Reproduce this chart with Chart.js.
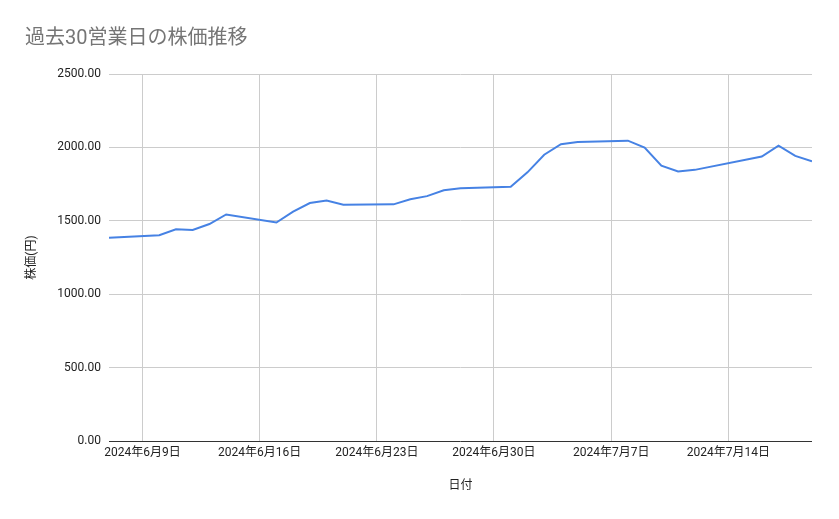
<!DOCTYPE html>
<html>
<head>
<meta charset="utf-8">
<script src="https://cdn.jsdelivr.net/npm/chart.js@4.4.1/dist/chart.umd.min.js"></script>
<style>
html,body{margin:0;padding:0;background:#fff;}
#wrap{width:839px;height:519px;position:relative;}
</style>
</head>
<body>
<div id="wrap"><canvas id="c"></canvas></div>
<script>
const chartTitle = '過去30営業日の株価推移';
const xTitle = '日付';
const yTitle = '株価(円)';

const dates = [
  '2024-06-07','2024-06-10','2024-06-11','2024-06-12','2024-06-13','2024-06-14',
  '2024-06-17','2024-06-18','2024-06-19','2024-06-20','2024-06-21',
  '2024-06-24','2024-06-25','2024-06-26','2024-06-27','2024-06-28',
  '2024-07-01','2024-07-02','2024-07-03','2024-07-04','2024-07-05',
  '2024-07-08','2024-07-09','2024-07-10','2024-07-11','2024-07-12',
  '2024-07-16','2024-07-17','2024-07-18','2024-07-19'
];
const prices = [
  1385, 1402, 1442, 1437, 1478, 1543,
  1488, 1562, 1621, 1638, 1610,
  1612, 1647, 1668, 1708, 1722,
  1732, 1830, 1950, 2022, 2036,
  2046, 1998, 1875, 1836, 1847,
  1938, 2012, 1942, 1905
];
const tickDates = ['2024-06-09','2024-06-16','2024-06-23','2024-06-30','2024-07-07','2024-07-14'];
const tickLabels = ['2024年6月9日','2024年6月16日','2024年6月23日','2024年6月30日','2024年7月7日','2024年7月14日'];
const xRange = ['2024-06-07','2024-07-19'];
const yTicks = [0, 500, 1000, 1500, 2000, 2500];

function toDay(s){
  const p = s.split('-').map(Number);
  return Date.UTC(p[0], p[1]-1, p[2]) / 86400000;
}

const FONT = "Roboto, 'Noto Sans CJK JP', sans-serif";
const points = dates.map((d,i) => ({x: toDay(d), y: prices[i]}));
const tickVals = tickDates.map(toDay);

new Chart(document.getElementById('c'), {
  type: 'line',
  data: {
    datasets: [{
      data: points,
      borderColor: '#4682e4',
      borderWidth: 2,
      pointRadius: 0,
      pointHoverRadius: 0,
      tension: 0,
      fill: false
    }]
  },
  options: {
    responsive: true,
    maintainAspectRatio: false,
    animation: false,
    layout: { padding: { left: 25, right: 27, top: 0, bottom: 0 } },
    plugins: {
      legend: { display: false },
      tooltip: { enabled: false },
      title: {
        display: true,
        text: chartTitle,
        align: 'start',
        color: '#757575',
        font: { family: FONT, size: 20, weight: 'normal' },
        padding: { top: 27, bottom: 23 }
      }
    },
    scales: {
      x: {
        type: 'linear',
        min: toDay(xRange[0]),
        max: toDay(xRange[1]),
        afterBuildTicks: s => { s.ticks = tickVals.map(v => ({value: v})); },
        afterFit: s => { s.height = 78; },
        border: { display: false },
        grid: { color: '#cccccc', lineWidth: 1, drawTicks: false },
        ticks: {
          autoSkip: false,
          maxRotation: 0,
          padding: 5,
          color: '#222222',
          font: { family: FONT, size: 12 },
          callback: (v) => { const i = tickVals.indexOf(v); return i >= 0 ? tickLabels[i] : ''; }
        },
        title: {
          display: true,
          text: xTitle,
          color: '#222222',
          font: { family: FONT, size: 12 },
          padding: { top: 0, bottom: 26 }
        }
      },
      y: {
        min: yTicks[0],
        max: yTicks[yTicks.length-1],
        afterBuildTicks: s => { s.ticks = yTicks.map(v => ({value: v})); },
        afterFit: s => { s.width = 84; },
        border: { display: false },
        grid: {
          color: c => (c.tick && c.tick.value === 0) ? '#333333' : '#cccccc',
          lineWidth: 1,
          drawTicks: false
        },
        ticks: {
          padding: 8,
          color: '#222222',
          font: { family: FONT, size: 12 },
          callback: v => Number(v).toFixed(2)
        },
        title: {
          display: true,
          text: yTitle,
          color: '#222222',
          font: { family: FONT, size: 12 },
          padding: 0
        }
      }
    }
  }
});
</script>
</body>
</html>
